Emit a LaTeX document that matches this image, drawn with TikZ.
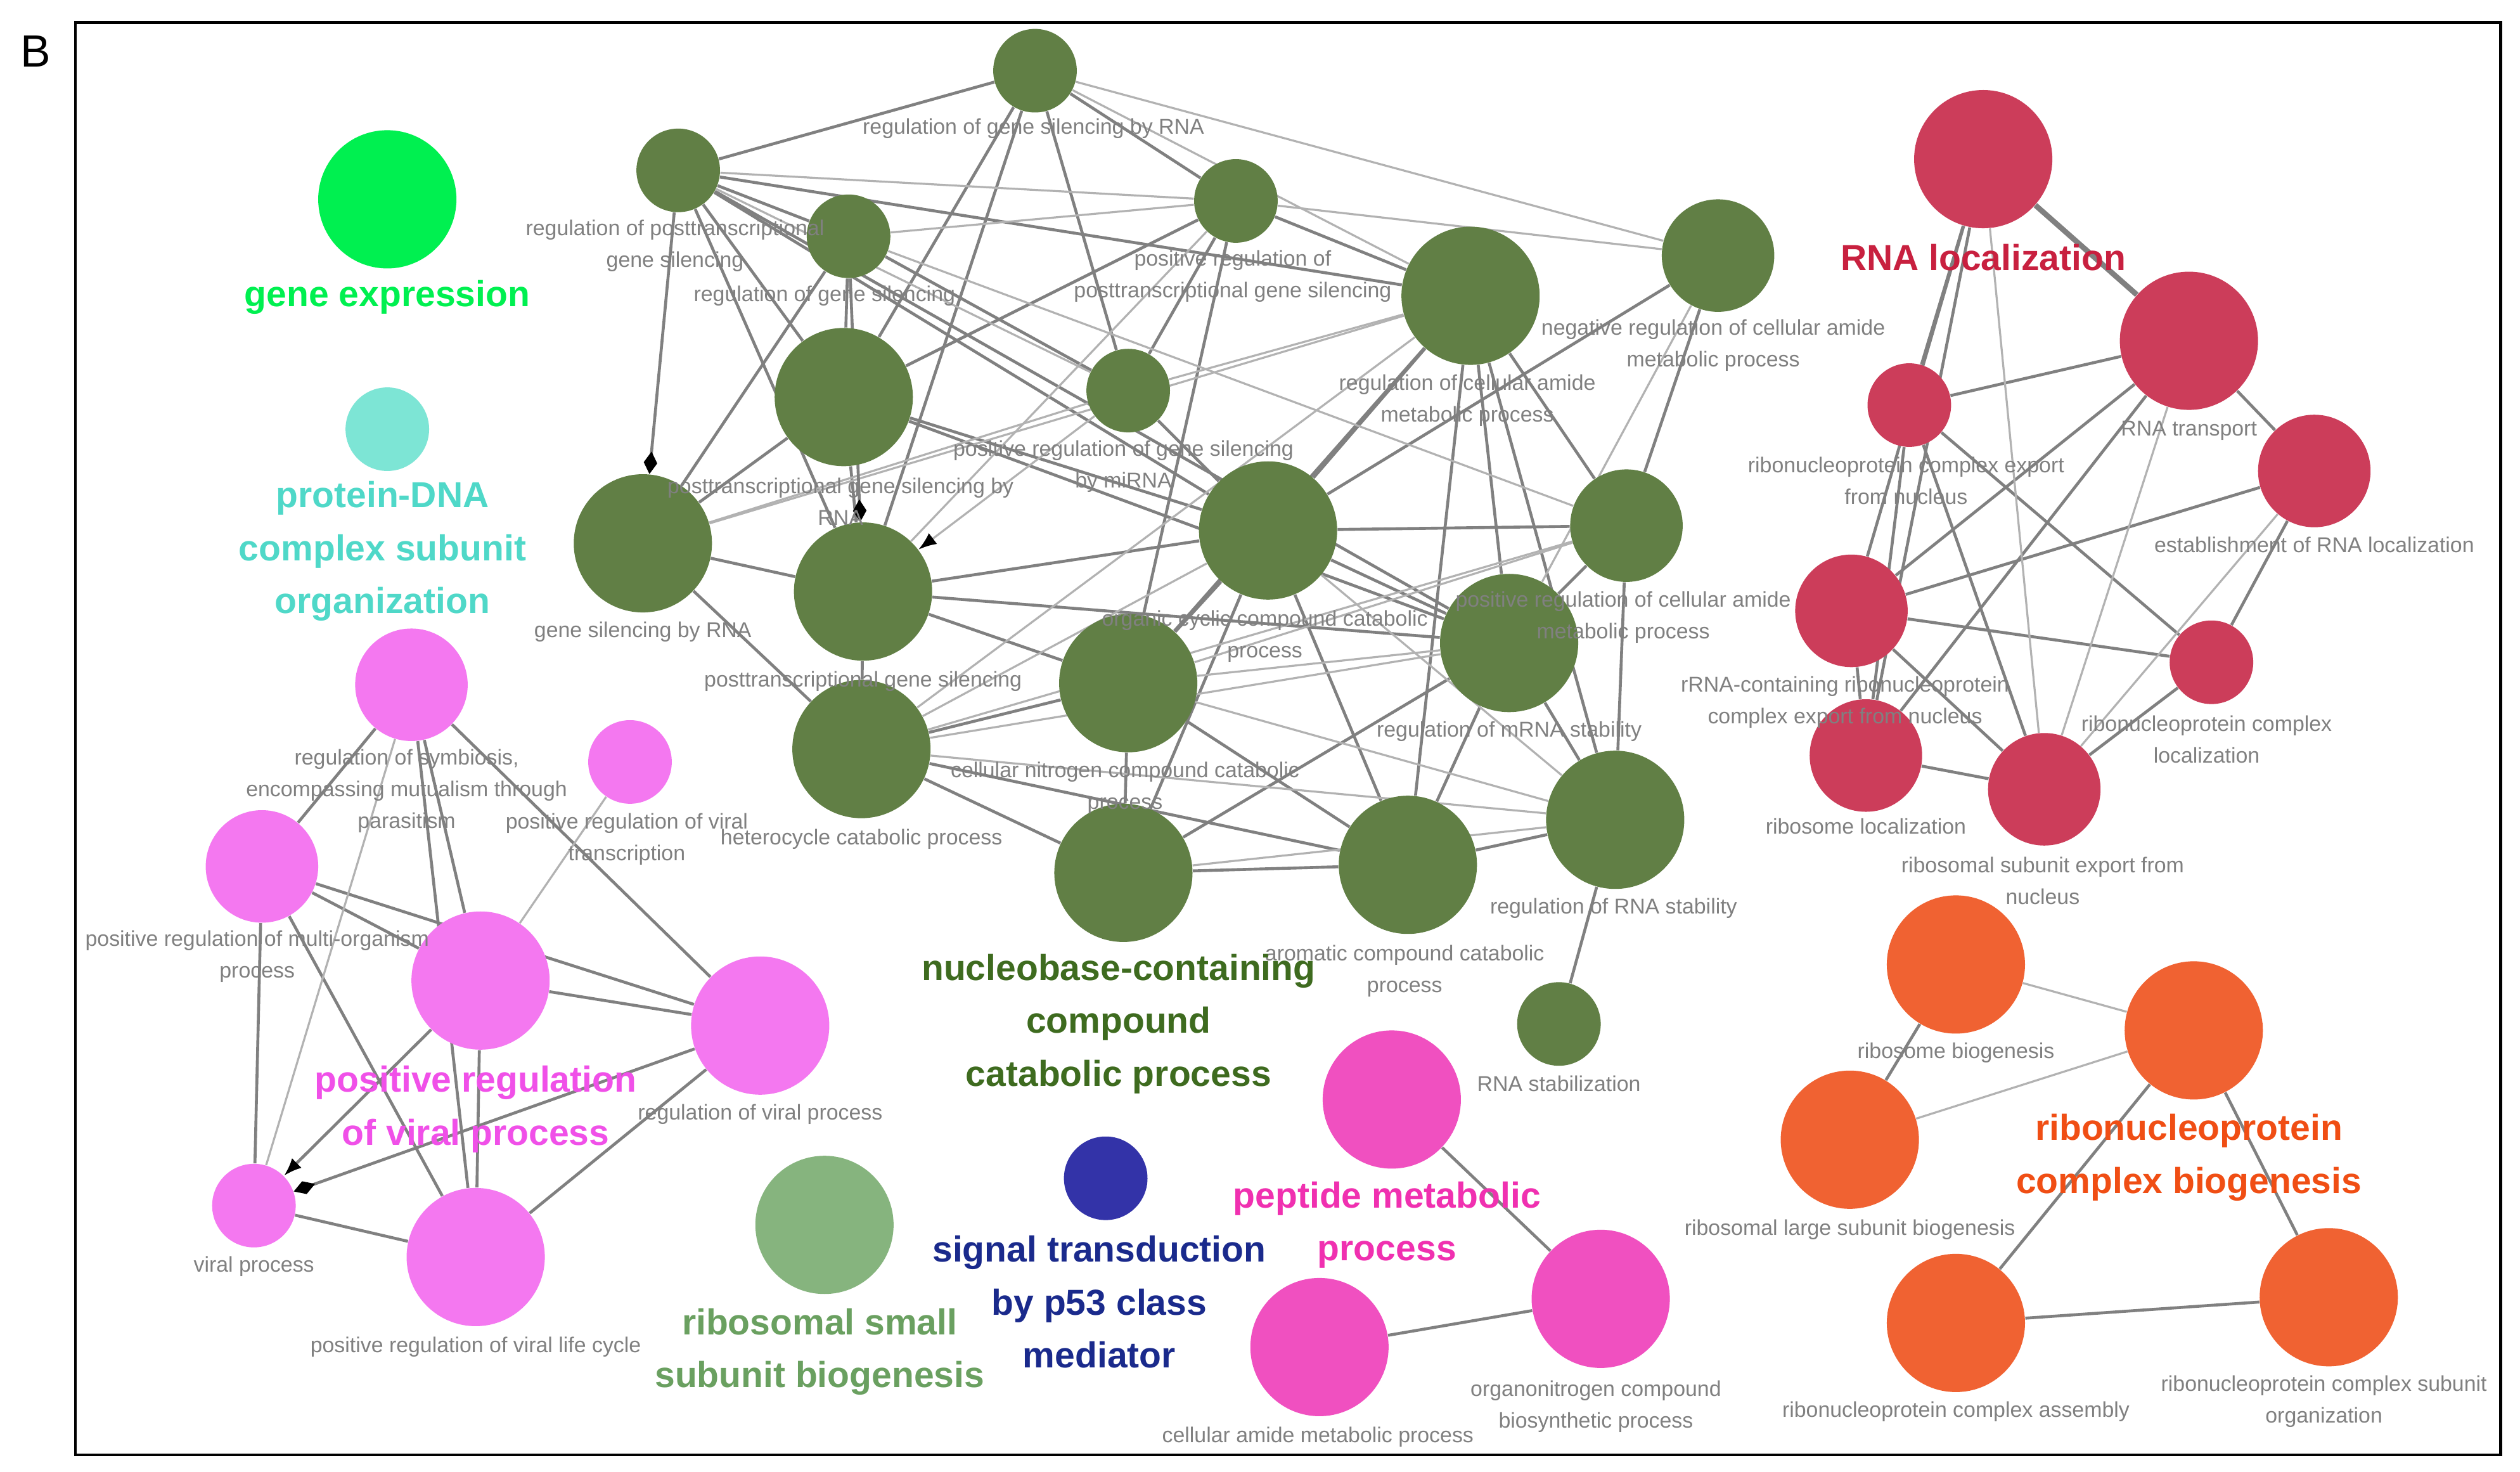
\documentclass[tikz,border=0pt]{standalone}
\usepackage{fontspec}
\setmainfont{Liberation Sans}
\usetikzlibrary{arrows.meta}
\definecolor{dg}{HTML}{617F45}
\definecolor{dgl}{HTML}{3E6B1F}
\definecolor{rd}{HTML}{CC3D5A}
\definecolor{rdl}{HTML}{C8203F}
\definecolor{og}{HTML}{F06232}
\definecolor{ogl}{HTML}{F04E14}
\definecolor{pk}{HTML}{F478F0}
\definecolor{pkl}{HTML}{F050E8}
\definecolor{mg}{HTML}{F050C0}
\definecolor{mgl}{HTML}{F030B0}
\definecolor{lg}{HTML}{86B47E}
\definecolor{lgl}{HTML}{6AA060}
\definecolor{bl}{HTML}{3333A8}
\definecolor{bll}{HTML}{1A2A8C}
\definecolor{gr}{HTML}{00F050}
\definecolor{cy}{HTML}{7DE5D5}
\definecolor{cyl}{HTML}{4FD8C8}
\tikzset{
 nd/.style={circle,inner sep=0pt,draw=none},
 L/.style={nd,minimum size=2.15cm},
 M/.style={nd,minimum size=1.75cm},
 S/.style={nd,minimum size=1.3cm},
 lab/.style={text=black!50,font=\fontsize{9.5}{14}\selectfont,align=center,inner sep=0pt},
 big/.style={font=\fontsize{16}{23.4}\selectfont\bfseries,align=center,inner sep=0pt},
 e/.style={draw=black!50,line width=1.3pt},
 f/.style={draw=black!30,line width=0.9pt},
 dia/.style={-{Diamond[length=10pt,width=6pt,fill=black,color=black]}},
 arr/.style={-{Latex[length=8pt,width=6pt,color=black]}},
}
\begin{document}
\begin{tikzpicture}[x=0.025cm,y=-0.025cm]
\useasboundingbox (0,0) rectangle (1568,915.7);
\fill[white] (0,0) rectangle (1568,915.7);
\draw[line width=1.2pt] (47,14) rectangle (1556,905);
\node[font=\fontsize{20}{24}\selectfont] (B) at (22,32) {B};
% nodes
\node[L] (ge) at (241,124) {};
\node[S] (pd) at (241,267) {};
\node[S] (g1) at (644,44) {};
\node[S] (g2) at (422,106) {};
\node[S] (g3) at (528,147) {};
\node[S] (g4) at (769,125) {};
\node[L] (g5) at (915,184) {};
\node[M] (g6) at (1069,159) {};
\node[L] (g7) at (525,247) {};
\node[S] (g8) at (702,243) {};
\node[L] (g9) at (400,338) {};
\node[L] (g10) at (537,368) {};
\node[L] (g11) at (789,330) {};
\node[M] (g12) at (1012,327) {};
\node[L] (g13) at (702,425) {};
\node[L] (g14) at (939,400) {};
\node[L] (g15) at (536,466) {};
\node[L] (g16) at (699,543) {};
\node[L] (g17) at (876,538) {};
\node[L] (g18) at (1005,510) {};
\node[S] (g19) at (970,637) {};
\node[L] (r1) at (1234,99) {};
\node[L] (r2) at (1362,212) {};
\node[S] (r3) at (1188,252) {};
\node[M] (r4) at (1440,293) {};
\node[M] (r5) at (1152,380) {};
\node[S] (r6) at (1376,412) {};
\node[M] (r7) at (1161,470) {};
\node[M] (r8) at (1272,491) {};
\node[L] (o1) at (1217,600) {};
\node[L] (o2) at (1365,641) {};
\node[L] (o3) at (1151,709) {};
\node[L] (o4) at (1217,823) {};
\node[L] (o5) at (1449,807) {};
\node[M] (p1) at (256,426) {};
\node[S] (p2) at (392,474) {};
\node[M] (p3) at (163,539) {};
\node[L] (p4) at (299,610) {};
\node[L] (p5) at (473,638) {};
\node[S] (p6) at (158,750) {};
\node[L] (p7) at (296,782) {};
\node[L] (lg1) at (513,762) {};
\node[S] (bl1) at (688,733) {};
\node[L] (m1) at (866,684) {};
\node[L] (m2) at (996,808) {};
\node[L] (m3) at (821,838) {};
% edges
\foreach \a/\b in {g1/g2,g1/g4,g1/g7,g1/g10,g1/g8,g2/g3,g2/g7,g2/g10,g2/g5,g2/g11,g2/g14,g3/g9,g3/g7,g3/g8,g4/g7,g4/g8,g4/g5,g4/g13,g5/g11,g5/g13,g5/g14,g5/g12,g5/g17,g5/g18,g6/g12,g6/g11,g7/g9,g7/g10,g7/g11,g7/g14,g8/g11,g9/g10,g9/g15,g10/g11,g10/g14,g10/g15,g10/g13,g11/g12,g11/g13,g11/g14,g11/g16,g11/g17,g12/g14,g12/g18,g13/g15,g13/g16,g13/g17,g14/g16,g14/g17,g14/g18,g15/g16,g15/g17,g16/g17,g17/g18,g18/g19,
r1/r3,r1/r5,r1/r7,r2/r3,r2/r4,r2/r5,r2/r7,r3/r6,r3/r7,r3/r8,r4/r5,r4/r6,r5/r6,r5/r7,r5/r8,r6/r8,r7/r8,
o1/o3,o2/o4,o2/o5,o4/o5,m1/m2,m2/m3,
p1/p3,p1/p4,p1/p7,p1/p5,p3/p4,p3/p5,p3/p6,p3/p7,p4/p7,p4/p5,p5/p7,p6/p7}
 {\path[e] (\a) -- (\b);}
\foreach \a/\b in {g1/g6,g1/g5,g2/g4,g2/g8,g3/g4,g3/g12,g4/g6,g4/g10,g5/g9,g5/g15,g6/g14,g8/g9,g8/g5,g11/g15,g11/g18,g12/g13,g12/g15,g13/g14,g13/g18,g14/g15,g15/g18,g16/g18,
r1/r8,r2/r8,r4/r8,o1/o2,o2/o3,p2/p4,p1/p6}
 {\path[f] (\a) -- (\b);}
\path[e,line width=2.4pt] (r1) -- (r2);
\path[e,arr] (p4) -- (p6);
\path[e,dia] (p5) -- (p6);
\path[e,dia] (g2) -- (g9);
\path[e,dia] (g3) -- (g10);
\path[f,arr] (g8) -- (g10);
% node discs on top
\foreach \n/\c/\r in {ge/gr/43,pd/cy/26,lg1/lg/43,bl1/bl/26,g1/dg/26,g2/dg/26,g3/dg/26,g4/dg/26,g8/dg/26,g19/dg/26,g6/dg/35,g12/dg/35,g5/dg/43,g7/dg/43,g9/dg/43,g10/dg/43,g11/dg/43,g13/dg/43,g14/dg/43,g15/dg/43,g16/dg/43,g17/dg/43,g18/dg/43,r1/rd/43,r2/rd/43,r3/rd/26,r4/rd/35,r5/rd/35,r6/rd/26,r7/rd/35,r8/rd/35,o1/og/43,o2/og/43,o3/og/43,o4/og/43,o5/og/43,p1/pk/35,p2/pk/26,p3/pk/35,p4/pk/43,p5/pk/43,p6/pk/26,p7/pk/43,m1/mg/43,m2/mg/43,m3/mg/43}
 {\fill[\c] (\n.center) circle[radius=\r];}
% small labels
\node[lab] (l1) at (643,80) {regulation of gene silencing by RNA};
\node[lab] (l2) at (420,153) {regulation of posttranscriptional\\gene silencing};
\node[lab] (l3) at (513,184) {regulation of gene silencing};
\node[lab] (l4) at (767,172) {positive regulation of\\posttranscriptional gene silencing};
\node[lab] (l5) at (913,249) {regulation of cellular amide\\metabolic process};
\node[lab] (l6) at (1066,215) {negative regulation of cellular amide\\metabolic process};
\node[lab] (l7) at (523,312) {posttranscriptional gene silencing by\\RNA};
\node[lab] (l8) at (699,290) {positive regulation of gene silencing\\by miRNA};
\node[lab] (l9) at (400,393) {gene silencing by RNA};
\node[lab] (l10) at (537,424) {posttranscriptional gene silencing};
\node[lab] (l11) at (787,396) {organic cyclic compound catabolic\\process};
\node[lab] (l12) at (1010,384) {positive regulation of cellular amide\\metabolic process};
\node[lab] (l13) at (700,490) {cellular nitrogen compound catabolic\\process};
\node[lab] (l14) at (939,455) {regulation of mRNA stability};
\node[lab] (l15) at (536,522) {heterocycle catabolic process};
\node[lab] (l17) at (874,604) {aromatic compound catabolic\\process};
\node[lab] (l18) at (1004,565) {regulation of RNA stability};
\node[lab] (l19) at (970,674) {RNA stabilization};
\node[lab] (lr2) at (1362,268) {RNA transport};
\node[lab] (lr3) at (1186,299) {ribonucleoprotein complex export\\from nucleus};
\node[lab] (lr4) at (1440,339) {establishment of RNA localization};
\node[lab] (lr5) at (1148,437) {rRNA-containing ribonucleoprotein\\complex export from nucleus};
\node[lab] (lr6) at (1373,460) {ribonucleoprotein complex\\localization};
\node[lab] (lr7) at (1161,514) {ribosome localization};
\node[lab] (lr8) at (1271,548) {ribosomal subunit export from\\nucleus};
\node[lab] (lo1) at (1217,655) {ribosome biogenesis};
\node[lab] (lo3) at (1151,765) {ribosomal large subunit biogenesis};
\node[lab] (lo4) at (1217,878) {ribonucleoprotein complex assembly};
\node[lab] (lo5) at (1446,872) {ribonucleoprotein complex subunit\\organization};
\node[lab] (lp1) at (253,492) {regulation of symbiosis,\\encompassing mutualism through\\parasitism};
\node[lab] (lp2) at (390,522) {positive regulation of viral\\transcription};
\node[lab] (lp3) at (160,595) {positive regulation of multi-organism\\process};
\node[lab] (lp5) at (473,693) {regulation of viral process};
\node[lab] (lp6) at (158,788) {viral process};
\node[lab] (lp7) at (296,838) {positive regulation of viral life cycle};
\node[lab] (lm2) at (993,875) {organonitrogen compound\\biosynthetic process};
\node[lab] (lm3) at (820,894) {cellular amide metabolic process};
% big labels
\node[big,text=gr] (Lge) at (241,185) {gene expression};
\node[big,text=cyl] (Lpd) at (238,343) {protein-DNA\\complex subunit\\organization};
\node[big,text=dgl] (Lnc) at (696,637) {nucleobase-containing\\compound\\catabolic process};
\node[big,text=rdl] (Lrl) at (1234,160) {RNA localization};
\node[big,text=ogl] (Lrb) at (1362,720) {ribonucleoprotein\\complex biogenesis};
\node[big,text=pkl] (Lpv) at (296,690) {positive regulation\\of viral process};
\node[big,text=lgl] (Llg) at (510,841) {ribosomal small\\subunit biogenesis};
\node[big,text=bll] (Lbl) at (684,810) {signal transduction\\by p53 class\\mediator};
\node[big,text=mgl] (Lpm) at (863,762) {peptide metabolic\\process};
\end{tikzpicture}
\end{document}
